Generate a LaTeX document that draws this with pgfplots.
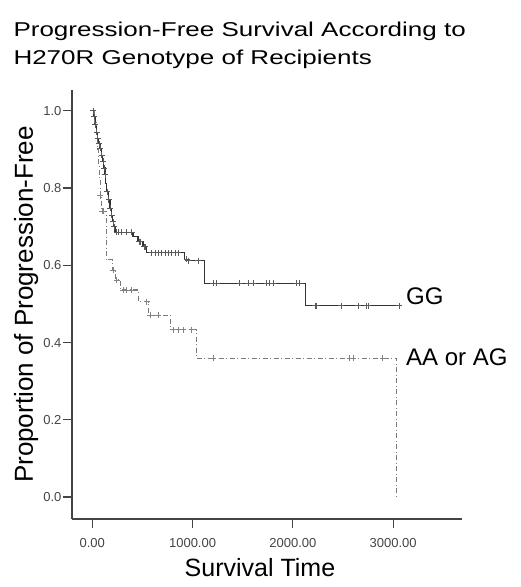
\documentclass[border=0pt]{standalone}
\usepackage{fontspec}
\setmainfont{Liberation Sans}
\newfontfamily\titlefont[FakeStretch=1.3]{Liberation Sans}
\usepackage{pgfplots}
\pgfplotsset{compat=1.18}

\definecolor{axisgray}{HTML}{444444}
\definecolor{gglin}{HTML}{333333}
\definecolor{aalin}{HTML}{7A7A7A}
\definecolor{markgray}{HTML}{5A5A5A}

% Kaplan-Meier steps (time, proportion)
\pgfplotstableread{
t s
0 1.000
15 0.985
27 0.964
40 0.945
50 0.929
65 0.915
77 0.903
90 0.885
104 0.869
115 0.852
127 0.834
135 0.812
144 0.791
160 0.770
177 0.748
190 0.730
203 0.713
215 0.700
227 0.685
406 0.674
456 0.661
506 0.648
545 0.633
922 0.616
954 0.612
1117 0.553
2130 0.495
3061 0.495
}\ggsteps

\pgfplotstableread{
t s
0 1.000
20 0.970
40 0.940
55 0.900
65 0.860
72 0.820
78 0.780
92 0.740
138 0.614
200 0.588
235 0.562
280 0.536
460 0.506
560 0.471
780 0.433
1040 0.359
3035 0.000
}\aasteps

% censored cases
\pgfplotstableread{
t s
8 1.000
20 0.985
30 0.964
45 0.945
55 0.929
70 0.915
80 0.903
95 0.885
108 0.869
120 0.852
130 0.834
150 0.791
165 0.770
180 0.748
195 0.730
208 0.713
220 0.700
243 0.685
259 0.685
293 0.685
343 0.685
393 0.685
470 0.661
480 0.661
520 0.648
530 0.648
592 0.633
625 0.633
659 0.633
692 0.633
725 0.633
758 0.633
792 0.633
825 0.633
858 0.633
941 0.616
957 0.612
1057 0.612
1207 0.553
1240 0.553
1472 0.553
1555 0.553
1605 0.553
1738 0.553
1771 0.553
1804 0.553
2037 0.553
2070 0.553
2220 0.495
2235 0.495
2480 0.495
2654 0.495
2737 0.495
2750 0.495
3061 0.495
}\ggcens

\pgfplotstableread{
t s
77 0.780
100 0.740
112 0.740
210 0.588
243 0.562
309 0.536
343 0.536
393 0.536
542 0.506
575 0.471
658 0.471
808 0.433
857 0.433
907 0.433
991 0.433
1207 0.359
2567 0.359
2600 0.359
2895 0.359
}\aacens

\begin{document}
\begin{tikzpicture}
\begin{axis}[
    name=ax,
    scale only axis,
    width=390pt, height=429pt,
    xmin=-202, xmax=3686,
    ymin=-0.057, ymax=1.054,
    axis lines=left,
    axis line style={-, line width=1.3pt, color=axisgray},
    tick align=outside,
    major tick length=9pt,
    tick style={color=axisgray, line width=1.2pt},
    xtick={0,1000,2000,3000},
    ytick={0,0.2,0.4,0.6,0.8,1.0},
    /pgf/number format/assume math mode=true,
    xticklabel style={/pgf/number format/fixed, /pgf/number format/fixed zerofill,
        /pgf/number format/precision=2, /pgf/number format/1000 sep={}, yshift=-7pt},
    yticklabel style={/pgf/number format/fixed, /pgf/number format/fixed zerofill,
        /pgf/number format/precision=1, xshift=2pt},
    tick label style={font=\fontsize{13}{13}\selectfont, text=axisgray},
    xlabel={Survival Time},
    ylabel={Proportion of Progression-Free},
    xlabel style={font=\fontsize{25}{25}\selectfont, at={(axis description cs:0.482,-0.1345)}, anchor=base, inner sep=0pt},
    ylabel style={font=\fontsize{26}{26}\selectfont, at={(axis description cs:-0.1,0.5)}, anchor=base, inner sep=0pt},
    title={Progression-Free Survival According to\\H270R Genotype of Recipients},
    title style={font=\titlefont\fontsize{20}{27.3}\selectfont, align=left, at={(axis description cs:-0.1505,1.144)}, anchor=north west, inner sep=0pt},
    clip=false,
]
\addplot[const plot, color=gglin, line width=1.1pt] table[x=t, y=s] {\ggsteps};
\addplot[const plot, color=aalin, line width=1.1pt,
    dash pattern=on 5pt off 2.5pt on 1pt off 2.5pt] table[x=t, y=s] {\aasteps};
\addplot[only marks, mark=+, mark size=3pt, color=markgray, line width=0.9pt,
    mark options={solid}] table[x=t, y=s] {\ggcens};
\addplot[only marks, mark=+, mark size=3pt, color=markgray!75, line width=0.8pt,
    mark options={solid}] table[x=t, y=s] {\aacens};
\node[anchor=west, inner sep=0pt, font=\fontsize{24}{24}\selectfont] at (axis cs:3128,0.519) {GG};
\node[anchor=west, inner sep=0pt, font=\fontsize{24}{24}\selectfont] at (axis cs:3128,0.363) {AA or AG};
\end{axis}
\path[use as bounding box] (ax.south west) ++(-72pt,-68pt) rectangle ++(520pt,587pt);
\end{tikzpicture}
\end{document}
